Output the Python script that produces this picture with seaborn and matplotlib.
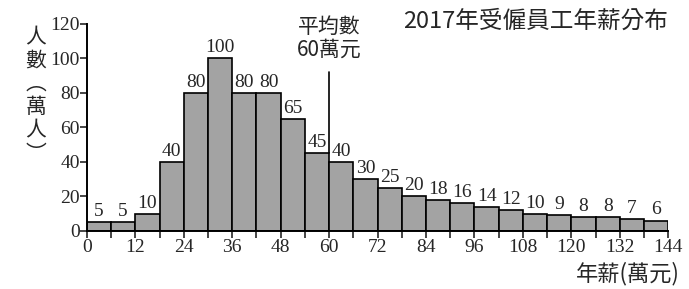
import numpy as np
import matplotlib
matplotlib.use("Agg")
import matplotlib.pyplot as plt
import seaborn as sns

# data
edges = list(range(0, 145, 6))
counts = [5, 5, 10, 40, 80, 100, 80, 80, 65, 45, 40, 30,
          25, 20, 18, 16, 14, 12, 10, 9, 8, 8, 7, 6]
xticks = list(range(0, 145, 12))
yticks = [0, 20, 40, 60, 80, 100, 120]
mean_val = 60
mean_line_top = 92

centers = [(edges[i] + edges[i + 1]) / 2 for i in range(len(counts))]

sns.set_style("white")
plt.rcParams['font.family'] = ['Liberation Serif', 'Noto Sans CJK TC']
cjk = ['Noto Sans CJK TC', 'DejaVu Sans']

fig = plt.figure(figsize=(6.89, 2.89), dpi=100)
ax = fig.add_axes([0.126, 0.201, 0.844, 0.716])

sns.histplot(x=centers, weights=counts, bins=edges, ax=ax,
             color="#a3a3a3", edgecolor="black", linewidth=1.2, alpha=1)

for c, v in zip(centers, counts):
    ax.text(c, v + 1.2, str(v), ha="center", va="bottom", fontsize=14)

# mean line
ax.plot([mean_val, mean_val], [counts[9], mean_line_top], color="black", lw=1.2)
ax.text(mean_val, 99, "平均數\n60萬元", ha="center", va="bottom",
        fontsize=15, family=['Noto Sans CJK TC'], linespacing=1.0)

ax.set_xlim(0, 144)
ax.set_ylim(0, 120)
ax.set_xticks(edges, minor=True)
ax.set_xticks(xticks)
ax.set_xticklabels([str(t) for t in xticks], fontsize=14)
ax.set_yticks(yticks)
ax.set_yticklabels([str(t) for t in yticks], fontsize=14)
ax.tick_params(axis="x", which="both", direction="out", length=5, width=1.2, bottom=True, pad=1)
ax.tick_params(axis="y", direction="out", length=5, width=1.2, left=True, pad=0)
ax.set_xlabel("")
ax.set_ylabel("")
sns.despine(ax=ax)
for s in ["left", "bottom"]:
    ax.spines[s].set_linewidth(1.4)
    ax.spines[s].set_color("black")

fig.text(0.97, 0.927, "2017年受僱員工年薪分布", ha="right", va="center",
         fontsize=17, family=cjk)
fig.text(0.052, 0.91, "人\n數\n︵\n萬\n人\n︶", ha="center", va="top",
         fontsize=15, family=cjk, linespacing=1.08)
fig.text(0.987, 0.055, "年薪(萬元)", ha="right", va="center",
         fontsize=16, family=cjk)

fig.savefig("out.png", dpi=100)
